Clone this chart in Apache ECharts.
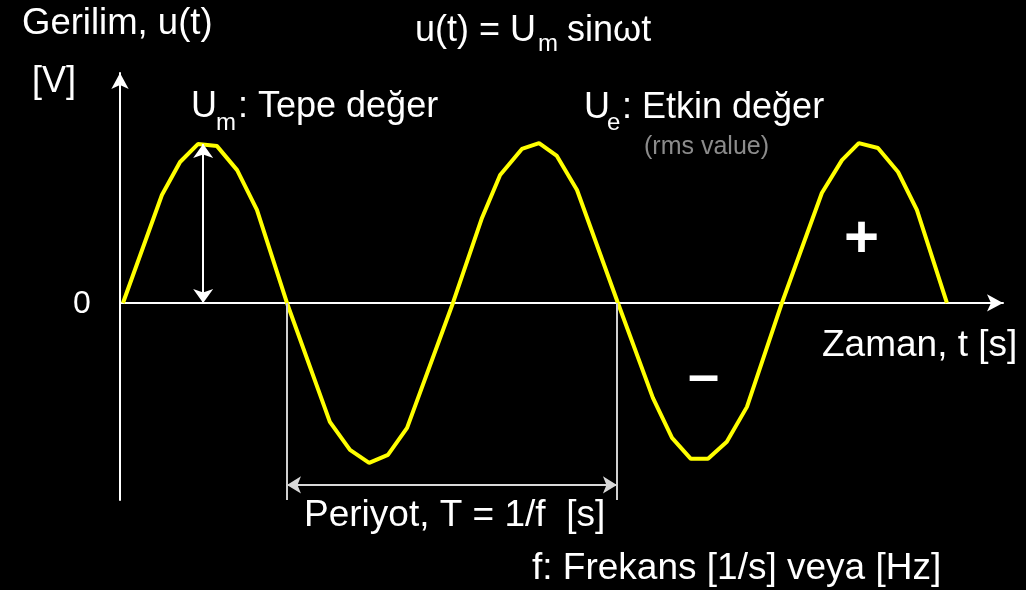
<!DOCTYPE html>
<html>
<head>
<meta charset="utf-8">
<script src="https://cdn.jsdelivr.net/npm/echarts@6/dist/echarts.min.js"></script>
<style>
  html, body { margin: 0; padding: 0; background: #000; }
  #chart { width: 1026px; height: 590px; }
</style>
</head>
<body>
<div id="chart"></div>
<script>
// time in periods, voltage in units of Um (vertices)
const timeData = [0.009, 0.127, 0.182, 0.236, 0.294, 0.355, 0.415, 0.506,
    0.636, 0.697, 0.755, 0.812, 0.870, 1.009,
    1.097, 1.152, 1.218, 1.270, 1.324, 1.385, 1.509,
    1.615, 1.673, 1.730, 1.782, 1.839, 1.900, 2.006,
    2.127, 2.188, 2.239, 2.297, 2.358, 2.415, 2.506];
const voltData = [0, 0.679, 0.887, 1.0, 0.987, 0.836, 0.585, 0,
    -0.748, -0.925, -1.006, -0.956, -0.786, 0,
    0.535, 0.805, 0.969, 1.006, 0.925, 0.711, 0,
    -0.597, -0.849, -0.981, -0.981, -0.874, -0.654, 0,
    0.692, 0.899, 1.006, 0.975, 0.824, 0.585, 0];

const peakMarker = [0.252, 0, 1.0];        // t, from u, to u
const periodStart = 0.506;
const periodEnd = 1.506;
const periodArrowY = -1.145;
const yMin = -1.24;
const yMax = 1.447;
const xMax = 2.676;

const font = '"Liberation Sans", Arial, sans-serif';

function txt(x, y, s, size, color, weight) {
    return {
        type: 'text',
        x: x,
        y: y,
        silent: true,
        style: {
            text: s,
            fontFamily: font,
            fontSize: size,
            fontWeight: weight || 'normal',
            fill: color || '#fff',
            align: 'left',
            verticalAlign: 'middle'
        }
    };
}

let myChart = echarts.init(document.getElementById('chart'));
let option;

option = {
    backgroundColor: '#000',
    animation: false,
    grid: {
        left: 120,
        right: 23,
        top: 73,
        bottom: 90
    },
    xAxis: {
        type: 'value',
        min: 0,
        max: xMax,
        axisLine: {
            onZero: true,
            symbol: ['none', 'arrow'],
            symbolSize: [13, 16],
            lineStyle: { color: '#fff', width: 2 }
        },
        axisTick: { show: false },
        axisLabel: { show: false },
        splitLine: { show: false }
    },
    yAxis: {
        type: 'value',
        min: yMin,
        max: yMax,
        axisLine: {
            show: true,
            onZero: false,
            symbol: ['none', 'arrow'],
            symbolSize: [13, 16],
            lineStyle: { color: '#fff', width: 2 }
        },
        axisTick: { show: false },
        axisLabel: { show: false },
        splitLine: { show: false }
    },
    series: [
        {
            name: 'u(t)',
            type: 'line',
            data: timeData.map((t, i) => [t, voltData[i]]),
            symbol: 'none',
            lineStyle: { color: '#ffff00', width: 4 },
            z: 3,
            markLine: {
                silent: true,
                animation: false,
                label: { show: false },
                data: [
                    [
                        { coord: [peakMarker[0], peakMarker[1]], symbol: 'arrow', symbolSize: [15, 14] },
                        { coord: [peakMarker[0], peakMarker[2]], symbol: 'arrow', symbolSize: [15, 14],
                          lineStyle: { color: '#fff', width: 2, type: 'solid' } }
                    ],
                    [
                        { coord: [periodStart, periodArrowY], symbol: 'arrow', symbolSize: [13, 14] },
                        { coord: [periodEnd, periodArrowY], symbol: 'arrow', symbolSize: [13, 14],
                          lineStyle: { color: '#d8d8d8', width: 2, type: 'solid' } }
                    ],
                    [
                        { coord: [periodStart, 0], symbol: 'none' },
                        { coord: [periodStart, yMin], symbol: 'none',
                          lineStyle: { color: '#d0d0d0', width: 2, type: 'solid' } }
                    ],
                    [
                        { coord: [periodEnd, 0], symbol: 'none' },
                        { coord: [periodEnd, yMin], symbol: 'none',
                          lineStyle: { color: '#d0d0d0', width: 2, type: 'solid' } }
                    ]
                ]
            }
        }
    ],
    graphic: [
        txt(22, 24, 'Gerilim, u(t)', 36.5),
        txt(32, 82, '[V]', 36),
        txt(415, 31, 'u(t) = U', 36),
        txt(538, 44, 'm', 24),
        txt(567, 31, 'sinωt', 36),
        txt(191, 107, 'U', 36),
        txt(216, 123, 'm', 24),
        txt(238, 107, ': Tepe değer', 36),
        txt(584, 108, 'U', 36),
        txt(607, 123, 'e', 24),
        txt(622, 108, ': Etkin değer', 36),
        txt(644, 147, '(rms value)', 25, '#8c8c8c'),
        txt(73, 304, '0', 32),
        txt(822, 346, 'Zaman, t [s]', 37),
        txt(304, 516, 'Periyot, T = 1/f  [s]', 37),
        txt(532, 569, 'f: Frekans [1/s] veya [Hz]', 37),
        txt(844, 240, '+', 60, '#fff', 'bold'),
        txt(688, 378, '–', 56, '#fff', 'bold')
    ]
};

option && myChart.setOption(option);
</script>
</body>
</html>
